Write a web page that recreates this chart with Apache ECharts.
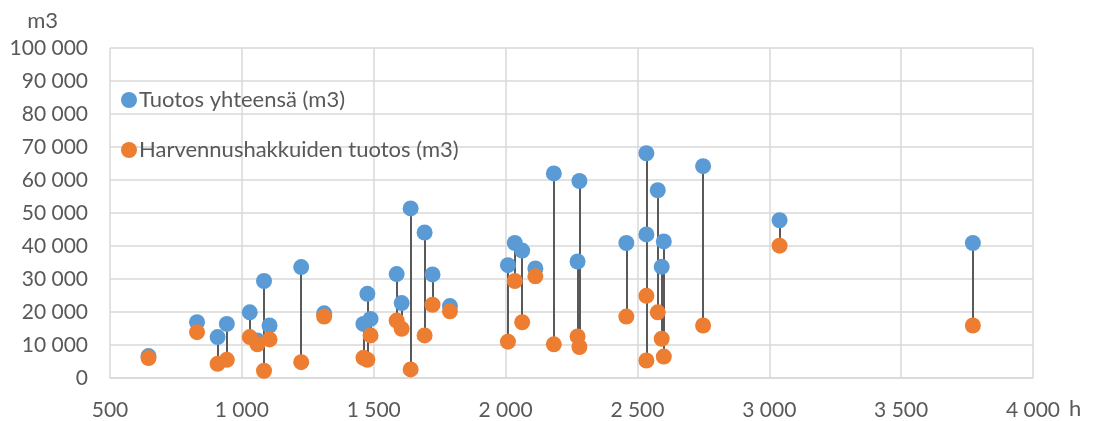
<!DOCTYPE html>
<html>
<head>
<meta charset="utf-8">
<script src="https://cdn.jsdelivr.net/npm/echarts@6/dist/echarts.min.js"></script>
</head>
<body style="margin:0;background:#fff;">
<div id="main" style="width:1095px;height:421px;"></div>
<script type="text/javascript">
    // tunnit (h) ja tuotokset (m3), luettu kuvasta
    var hours = [646, 830, 908, 943, 1030, 1059, 1084, 1105, 1225, 1312, 1461, 1476, 1488,
        1587, 1606, 1640, 1693, 1723, 1789, 2009, 2035, 2063, 2113, 2183, 2273, 2280,
        2458, 2534, 2534, 2577, 2592, 2600, 2749, 3039, 3772];
    var totalYield = [6650, 16900, 12400, 16400, 19900, 11400, 29400, 15900, 33600, 19600, 16400, 25500, 17900,
        31500, 22700, 51400, 44100, 31400, 21800, 34200, 40900, 38600, 33200, 62000, 35300, 59700,
        40900, 68100, 43500, 56900, 33700, 41400, 64200, 47800, 40900];
    var thinningYield = [6040, 13900, 4300, 5500, 12400, 10200, 2200, 11700, 4800, 18600, 6100, 5500, 12900,
        17400, 14900, 2600, 12900, 22200, 20200, 11000, 29400, 16900, 30800, 10200, 12600, 9400,
        18600, 5300, 24900, 19900, 11900, 6500, 15900, 40100, 15900];
    var seriesNames = ['Tuotos yhteensä (m3)', 'Harvennushakkuiden tuotos (m3)'];

    var myChart = echarts.init(document.getElementById('main'));

    function fmt(v) {
        return String(v).replace(/\B(?=(\d{3})+(?!\d))/g, ' ');
    }

    var txt = '#595959';
    var font = 'Lato';

    var option = {
        animation: false,
        textStyle: {fontFamily: font},
        grid: {left: 110, right: 62, top: 48, bottom: 42},
        legend: {
            orient: 'vertical',
            left: 116,
            top: 84,
            itemGap: 28,
            itemWidth: 16,
            itemHeight: 16,
            icon: 'circle',
            data: seriesNames,
            textStyle: {color: txt, fontSize: 22, fontFamily: font, padding: [0, 0, 0, -3]}
        },
        xAxis: {
            type: 'value',
            min: 500,
            max: 4000,
            interval: 500,
            name: '{n|h}',
            nameLocation: 'end',
            nameGap: 36,
            nameTextStyle: {
                color: txt, verticalAlign: 'top', padding: [20, 0, 0, 0],
                rich: {n: {fontSize: 22, color: txt, fontFamily: font}}
            },
            axisLine: {show: true, lineStyle: {color: '#d9d9d9', width: 1.5}},
            axisTick: {show: false},
            axisLabel: {color: txt, fontSize: 21, margin: 22, formatter: fmt},
            splitLine: {show: true, lineStyle: {color: '#d9d9d9', width: 1.5}}
        },
        yAxis: {
            type: 'value',
            min: 0,
            max: 100000,
            interval: 10000,
            name: '{n|m3}',
            nameLocation: 'end',
            nameGap: 16,
            nameTextStyle: {
                color: txt, align: 'right', padding: [0, 52, 0, 0],
                rich: {n: {fontSize: 22, color: txt, fontFamily: font}}
            },
            axisLine: {show: false},
            axisTick: {show: false},
            axisLabel: {color: txt, fontSize: 21, margin: 22, formatter: fmt},
            splitLine: {show: true, lineStyle: {color: '#d9d9d9', width: 1.5}}
        },
        series: [
            {
                type: 'lines',
                coordinateSystem: 'cartesian2d',
                silent: true,
                z: 1,
                lineStyle: {color: '#595959', width: 2, opacity: 1},
                data: hours.map(function (h, i) {
                    return {coords: [[h, totalYield[i]], [h, thinningYield[i]]]};
                })
            },
            {
                name: seriesNames[0],
                type: 'scatter',
                symbolSize: 16,
                z: 2,
                itemStyle: {color: '#5b9bd5', opacity: 1},
                data: hours.map(function (h, i) { return [h, totalYield[i]]; })
            },
            {
                name: seriesNames[1],
                type: 'scatter',
                symbolSize: 16,
                z: 3,
                itemStyle: {color: '#ed7d31', opacity: 1},
                data: hours.map(function (h, i) { return [h, thinningYield[i]]; })
            }
        ]
    };

    myChart.setOption(option);
</script>
</body>
</html>
